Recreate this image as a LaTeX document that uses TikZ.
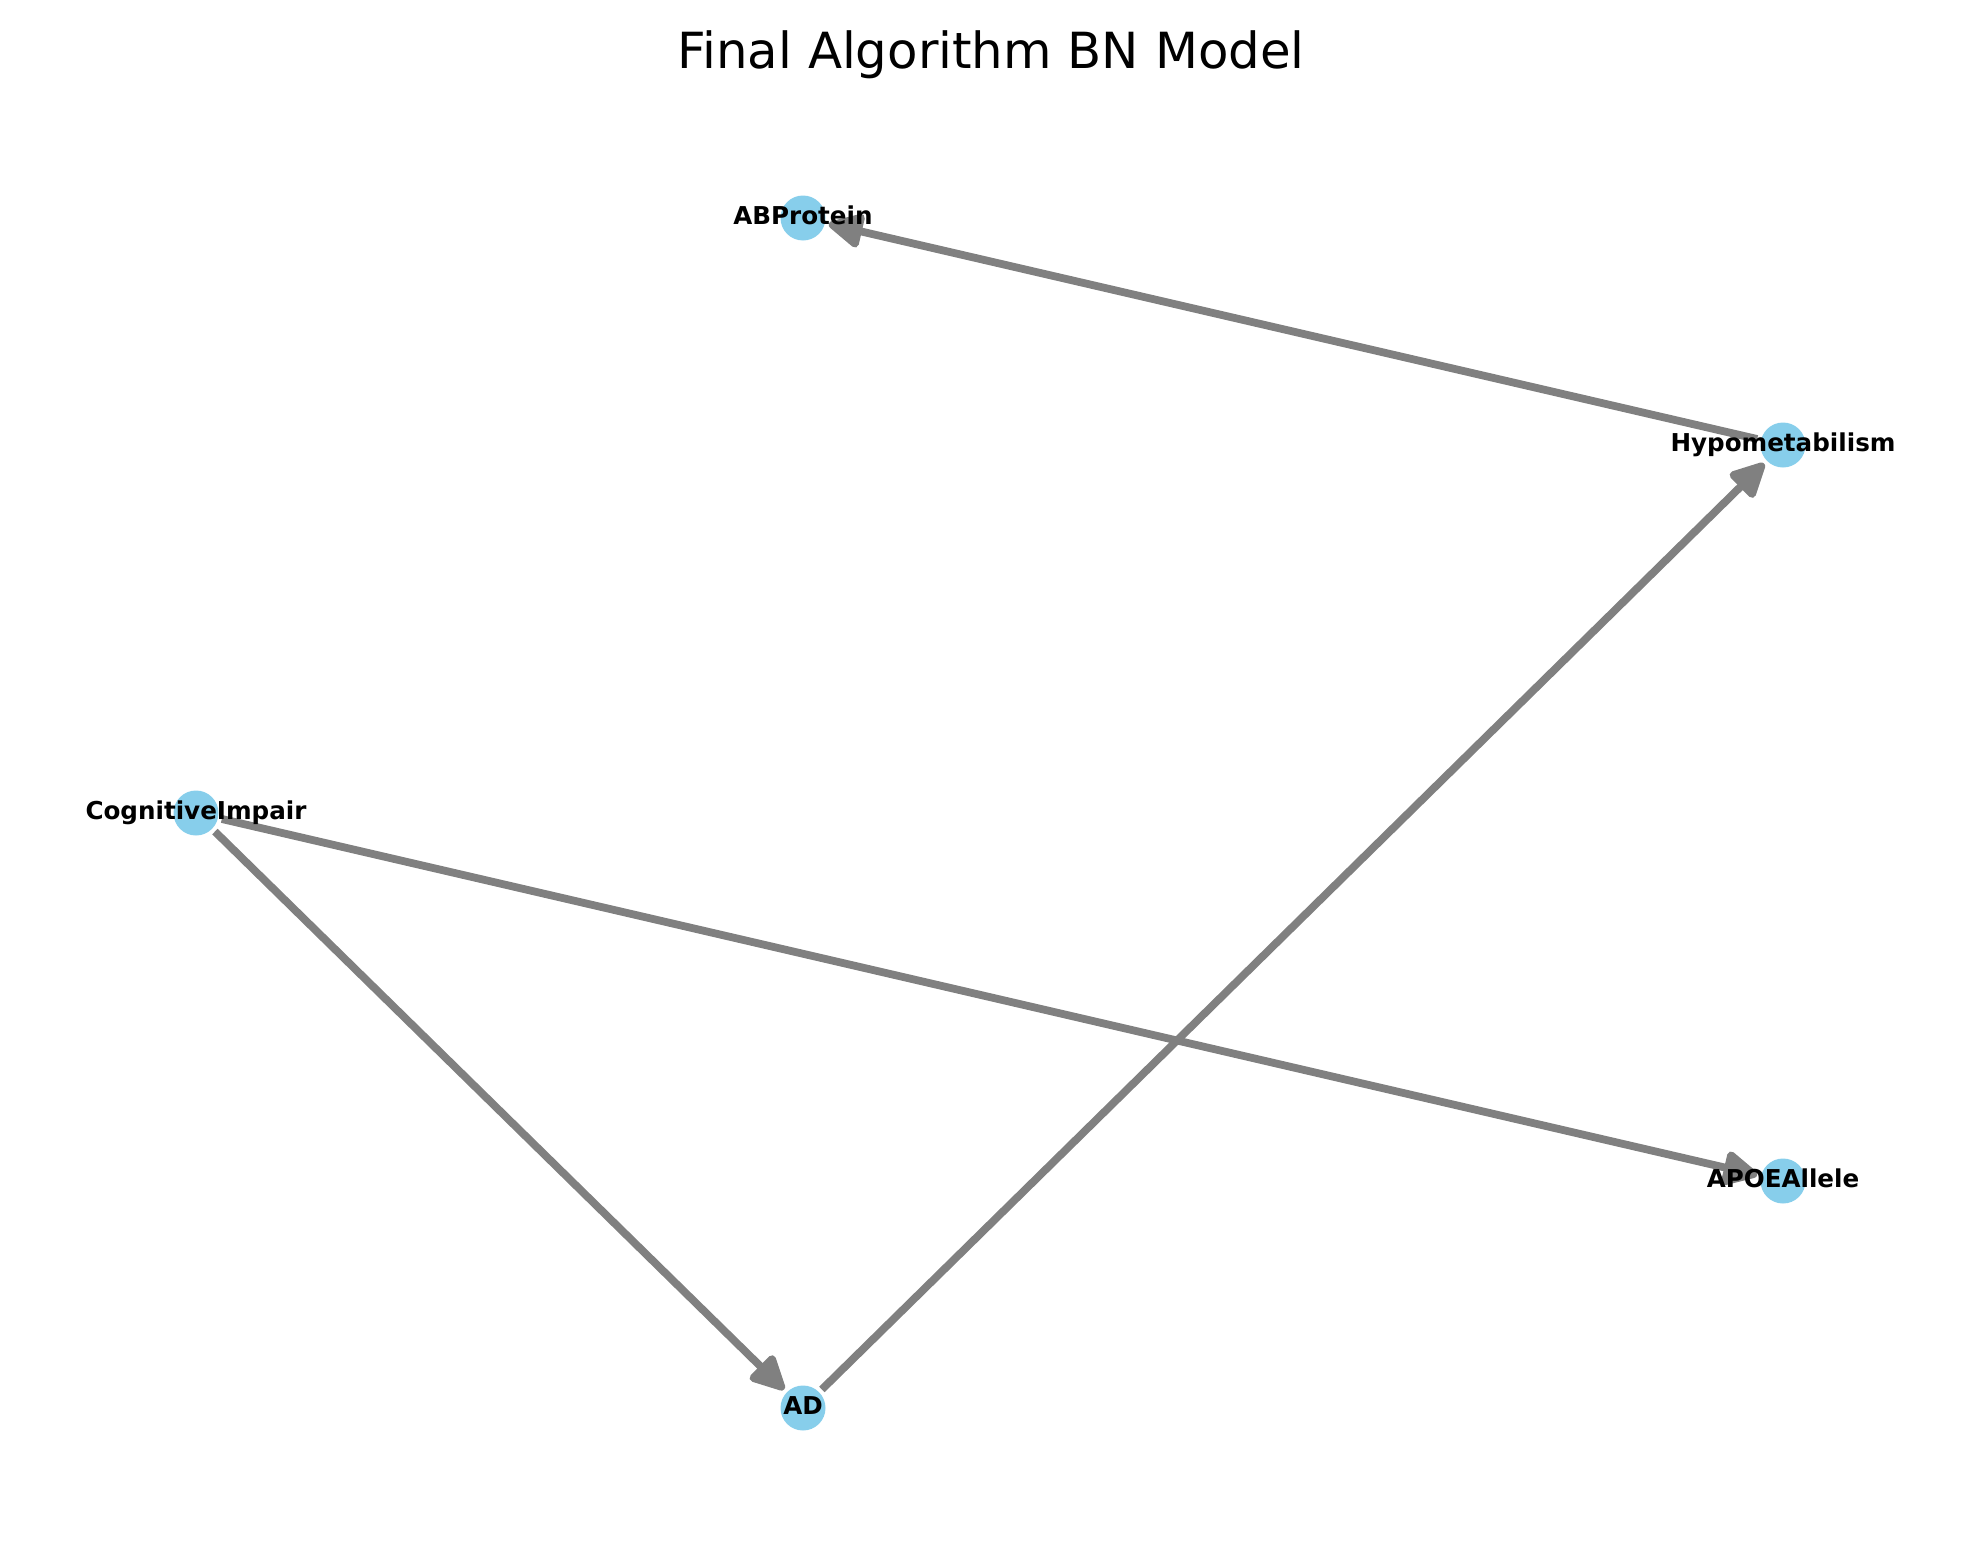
\documentclass[tikz,border=0pt]{standalone}
\usepackage{fontspec}
\setmainfont{DejaVu Sans}
\usetikzlibrary{arrows.meta,backgrounds}
\definecolor{skyblue}{HTML}{87CEEB}
\definecolor{edgegray}{HTML}{808080}
\begin{document}
\begin{tikzpicture}[x=1pt,y=-1pt,
  bn/.style={circle, fill=skyblue, minimum size=45pt, inner sep=0pt, outer sep=4pt},
  lab/.style={font={\fontsize{24.6}{30}\selectfont\bfseries}, text height=18.7pt, text depth=5.9pt, inner sep=0pt},
  edge/.style={draw=edgegray, line width=7.8pt, -{Triangle[length=39pt,width=37pt,round]}},
  ttl/.style={anchor=base, inner sep=0pt, font={\fontsize{49.8}{60}\selectfont}}]
\useasboundingbox (0,0) rectangle (1980,1563);
\node[ttl] (title) at (991,68) {Final Algorithm BN Model};
\node[bn] (ab) at (803,218) {};
\node[bn] (hy) at (1783,445) {};
\node[bn] (ci) at (196,813) {};
\node[bn] (apoe) at (1783,1181) {};
\node[bn] (ad) at (803,1408) {};
\begin{scope}[on background layer]
\draw[edge] (ci) -- (ad);
\draw[edge] (ci) -- (apoe);
\draw[edge] (ad) -- (hy);
\draw[edge] (hy) -- (ab);
\end{scope}
\node[lab] (abl) at (ab.center) {ABProtein};
\node[lab] (hyl) at (hy.center) {Hypometabilism};
\node[lab] (cil) at (ci.center) {CognitiveImpair};
\node[lab] (apoel) at (apoe.center) {APOEAllele};
\node[lab] (adl) at (ad.center) {AD};
\end{tikzpicture}
\end{document}
